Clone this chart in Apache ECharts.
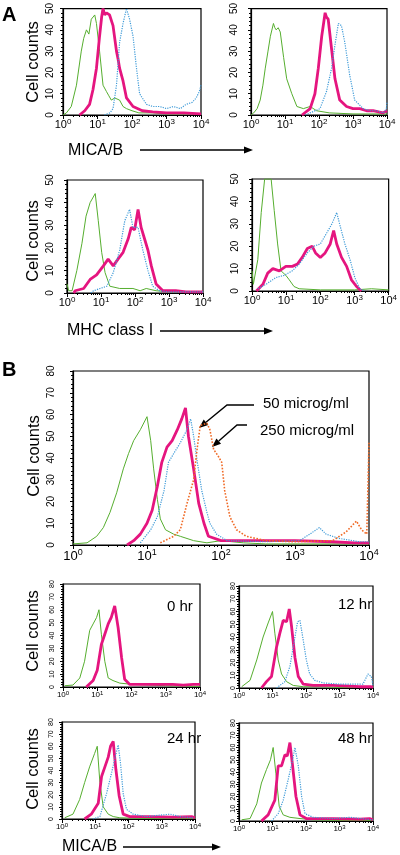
<!DOCTYPE html>
<html><head><meta charset="utf-8">
<script src="https://cdn.jsdelivr.net/npm/echarts@6/dist/echarts.min.js"></script>
<style>html,body{margin:0;padding:0;background:#fff}#c{width:400px;height:855px}</style>
</head><body><div id="c"></div>
<script>
// ---------- DATA (x = log10 fluorescence exponent, y = cell counts) ----------
const xTickExponents = [0, 1, 2, 3, 4];
// Panel A, top-left (MICA/B)
const a1Green = [[0,0],[0.1,1],[0.24,4],[0.39,14],[0.53,30],[0.6,36],[0.68,40],[0.75,38],[0.82,45],[0.92,47],[0.97,43],[1.06,30],[1.16,14],[1.26,11],[1.33,9],[1.4,7],[1.5,8],[1.64,7],[1.74,4],[1.84,3],[2.0,2],[2.2,1],[2.6,1],[3.0,0.5],[3.5,0.5],[4,0.5]];
const a1Magenta = [[0.48,0],[0.63,2],[0.77,5],[0.87,12],[0.97,22],[1.06,37],[1.12,46],[1.16,50],[1.21,47],[1.26,48],[1.35,47],[1.45,42],[1.55,30],[1.6,26],[1.64,22],[1.74,16],[1.79,12],[1.84,8],[2.03,4],[2.3,2],[2.6,1.5],[3.0,1],[3.5,1],[4,0.5]];
const a1Blue = [[1.2,0],[1.36,1],[1.45,3],[1.55,14],[1.64,34],[1.74,43],[1.84,50],[1.93,45],[2.03,37],[2.13,22],[2.22,10],[2.42,5],[2.6,4],[2.8,4],[3.0,3],[3.2,4],[3.4,3],[3.57,5],[3.75,6],[3.86,8],[3.95,11],[4,14]];
// Panel A, top-right (MICA/B)
const a2Green = [[0,0],[0.08,1],[0.18,3],[0.27,7],[0.35,14],[0.42,22],[0.5,30],[0.57,37],[0.66,43],[0.7,41],[0.74,40],[0.8,41],[0.86,39],[0.96,27],[1.05,17],[1.2,10],[1.35,4],[1.54,3],[1.74,4],[1.93,2],[2.3,1],[3,0.5],[4,0.5]];
const a2Magenta = [[1.5,0],[1.74,3],[1.88,10],[1.98,22],[2.08,37],[2.18,48],[2.22,46],[2.27,45],[2.37,31],[2.47,17],[2.61,7],[2.81,4],[3.0,3],[3.2,3],[3.4,2],[3.59,2],[3.88,1],[4,2]];
const a2Blue = [[1.6,0],[1.74,1],[2.03,3],[2.22,11],[2.37,22],[2.47,33],[2.57,43],[2.66,42],[2.76,34],[2.9,19],[3.05,7],[3.3,3],[3.5,2],[3.69,2],[3.9,1],[3.98,3],[4,6]];
// Panel A, bottom-left (MHC class I)
const a3Green = [[0,4],[0.05,1],[0.15,1],[0.29,10],[0.44,22],[0.56,34],[0.68,40],[0.83,44],[0.92,32],[1.02,18],[1.12,9],[1.26,3],[1.55,2],[1.94,2],[2.15,1],[2.33,2],[2.62,1],[3,0.5],[4,0.5]];
const a3Magenta = [[0.2,0],[0.24,1],[0.49,2],[0.68,6],[0.87,8],[1.07,12],[1.21,15],[1.36,12],[1.5,15],[1.65,18],[1.8,24],[1.89,29],[1.99,28],[2.09,37],[2.18,29],[2.28,24],[2.38,19],[2.48,12],[2.62,4],[2.82,1],[3.2,1],[3.5,0.5],[4,0.5]];
const a3Blue = [[0.7,0],[0.78,1],[1.17,3],[1.36,9],[1.55,19],[1.7,32],[1.84,37],[1.94,29],[2.09,29],[2.23,19],[2.38,10],[2.52,3],[2.72,1],[3,0.5],[4,0.5]];
// Panel A, bottom-right (MHC class I)
const a4Green = [[0,9],[0.04,3],[0.08,3],[0.17,14],[0.27,35],[0.37,50],[0.56,50],[0.65,36],[0.75,21],[0.85,9],[0.99,7],[1.09,5],[1.23,2],[1.38,1],[2,0.5],[3,0.5],[3.5,1],[4,0.5]];
const a4Magenta = [[0.13,0],[0.32,3],[0.46,8],[0.61,10],[0.8,9],[0.99,11],[1.18,11],[1.33,12],[1.47,15],[1.62,19],[1.76,20],[1.86,17],[2.0,15],[2.14,17],[2.29,21],[2.39,27],[2.48,21],[2.62,15],[2.77,11],[2.91,5],[3.06,2],[3.2,0]];
const a4Blue = [[0.17,1],[0.41,3],[0.7,6],[0.94,7],[1.18,9],[1.38,12],[1.62,17],[1.81,20],[2.0,21],[2.19,26],[2.34,30],[2.48,35],[2.58,29],[2.72,21],[2.87,14],[3.01,6],[3.15,1],[3.3,0]];
// Panel B, dose panel
const bGreen = [[0,0.5],[0.19,1],[0.32,4],[0.41,8],[0.5,15],[0.59,24],[0.68,35],[0.75,42],[0.82,48],[0.91,53],[1.0,59],[1.05,48],[1.09,35],[1.14,21],[1.18,12],[1.25,7],[1.36,5],[1.45,4],[1.63,2],[1.81,1],[2.0,2],[2.3,1],[2.6,0.5],[3,0.5],[4,0.5]];
const bMagenta = [[0.73,0],[0.82,2],[0.91,5],[1.0,10],[1.07,16],[1.14,27],[1.2,38],[1.27,45],[1.34,48],[1.41,53],[1.47,58],[1.52,63],[1.56,50],[1.63,35],[1.7,19],[1.77,10],[1.83,4],[2.0,2],[2.5,2],[3.0,2],[3.5,1.5],[3.8,1],[4,1]];
const bBlue = [[0.91,1],[1.05,7],[1.14,13],[1.23,25],[1.29,38],[1.36,42],[1.45,47],[1.54,53],[1.59,58],[1.63,50],[1.68,38],[1.74,25],[1.81,15],[1.85,10],[1.94,5],[2.08,2],[2.61,1.5],[3.06,2],[3.2,5],[3.33,8],[3.42,5],[3.6,3],[3.87,1.5],[4,1.5]];
const bOrange = [[1.18,1],[1.36,4],[1.45,7],[1.54,19],[1.63,30],[1.68,45],[1.72,55],[1.81,56],[1.85,53],[1.9,44],[1.96,41],[2.01,38],[2.05,25],[2.12,13],[2.21,7],[2.34,4],[2.61,2],[2.97,1.5],[3.51,2],[3.69,6],[3.83,11],[3.9,7],[3.97,5],[4,47]];
// Panel B, time course
const h0Green = [[0.05,1],[0.29,1.5],[0.49,7],[0.63,20],[0.78,44],[0.88,49],[0.98,54],[1.05,60],[1.12,41],[1.22,20],[1.32,7],[1.46,5],[1.66,3],[2.05,2],[2.54,1.5],[3,1],[4,0.5]];
const h0Magenta = [[0.68,0],[0.88,5],[1.0,13],[1.12,33],[1.22,41],[1.32,49],[1.41,54],[1.51,63],[1.61,46],[1.71,23],[1.8,6],[1.95,2],[2.24,2],[2.83,2],[3.2,2],[3.51,1.5],[3.8,2],[4,2]];
const h12Green = [[0.08,1],[0.33,6],[0.53,22],[0.72,40],[0.87,51],[1.0,60],[1.07,43],[1.17,22],[1.27,11],[1.42,5],[1.62,2],[1.92,1],[2.41,1],[3,0.5],[4,0.5]];
const h12Magenta = [[0.67,0],[0.82,5],[0.97,9],[1.12,32],[1.22,43],[1.32,53],[1.42,52],[1.5,62],[1.57,48],[1.67,24],[1.77,9],[1.92,3],[2.21,2],[2.81,2],[3.6,1],[3.95,1],[4,0.5]];
const h12Blue = [[1.12,0],[1.37,5],[1.52,17],[1.67,40],[1.75,52],[1.82,53],[1.92,37],[2.01,22],[2.11,11],[2.26,6],[2.51,4],[3.01,3],[3.4,3],[3.7,3],[3.85,11],[3.95,9],[4,2]];
const h24Green = [[0.08,1],[0.33,4],[0.53,16],[0.68,30],[0.83,43],[0.98,54],[1.06,60],[1.14,30],[1.24,10],[1.39,4],[1.54,2],[1.74,1],[2.5,0.5],[4,0.5]];
const h24Magenta = [[0.68,0],[0.88,4],[1.09,13],[1.19,35],[1.29,43],[1.39,51],[1.46,60],[1.54,64],[1.62,41],[1.72,19],[1.84,4],[2.04,2],[2.64,2],[3.35,1.5],[3.9,2],[4,1]];
const h24Blue = [[0.93,0],[1.14,2],[1.34,21],[1.49,38],[1.59,50],[1.69,61],[1.76,46],[1.84,21],[1.94,8],[2.14,4],[2.54,2],[3.25,4],[3.55,2],[3.95,1]];
const h48Green = [[0.08,1],[0.33,2],[0.53,14],[0.67,31],[0.82,42],[0.94,50],[1.02,60],[1.1,39],[1.2,12],[1.32,5],[1.52,3],[1.82,2],[2.21,1],[3,0.5],[4,0.5]];
const h48Magenta = [[0.67,0],[0.87,5],[1.07,17],[1.17,45],[1.27,45],[1.37,54],[1.44,53],[1.52,64],[1.6,45],[1.7,20],[1.82,5],[2.01,2],[2.81,2],[3.6,1.5],[3.9,2],[4,1]];
const h48Blue = [[0.97,0],[1.17,6],[1.32,17],[1.47,34],[1.6,50],[1.67,60],[1.77,45],[1.87,20],[1.97,6],[2.21,3],[2.81,2],[3.31,3],[3.8,1.5],[4,1]];
// Text
const yTitle = 'Cell counts';
const xTitles = ['MICA/B', 'MHC class I', 'MICA/B'];
const timeLabels = ['0 hr', '12 hr', '24 hr', '48 hr'];
const doseLabels = ['50 microg/ml', '250 microg/ml'];

// ---------- LAYOUT / STYLE ----------
const FONT = 'Liberation Sans, Arial, sans-serif';
const styles = {
  g: {color: '#56ae2f', width: 1, type: 'solid'},
  m: {color: '#e5157f', width: 2.8, type: 'solid'},
  b: {color: '#3f9bd8', width: 1.2, type: 'dotted'},
  o: {color: '#f06a26', width: 1.6, type: 'dotted'}
};
const panels = [
  {rect: [63, 6, 138, 109], yMax: 50, xl: 11, yl: 10, ym: 8, s: [['g', a1Green], ['m', a1Magenta], ['b', a1Blue]]},
  {rect: [251, 6, 136, 109], yMax: 50, xl: 11, yl: 10, ym: 12, s: [['g', a2Green], ['m', a2Magenta], ['b', a2Blue]]},
  {rect: [67, 180, 136, 113], yMax: 50, xl: 11, yl: 10, ym: 12, s: [['g', a3Green], ['m', a3Magenta], ['b', a3Blue]]},
  {rect: [252, 179, 140, 112], yMax: 50, xl: 11, yl: 10, ym: 12, s: [['g', a4Green], ['m', a4Magenta], ['b', a4Blue]]},
  {rect: [73, 371, 296, 174], yMax: 80, xl: 13, yl: 10, ym: 17, s: [['g', bGreen], ['m', bMagenta], ['b', bBlue], ['o', bOrange]]},
  {rect: [63, 584, 137, 103], yMax: 80, xl: 8, yl: 7, ym: 7, s: [['g', h0Green], ['m', h0Magenta]]},
  {rect: [239, 586, 134, 102], yMax: 80, xl: 8, yl: 7, ym: 2, s: [['g', h12Green], ['m', h12Magenta], ['b', h12Blue]]},
  {rect: [62, 722, 133, 97], yMax: 80, xl: 8, yl: 7, ym: 7, s: [['g', h24Green], ['m', h24Magenta], ['b', h24Blue]]},
  {rect: [239, 723, 134, 98], yMax: 80, xl: 8, yl: 7, ym: 2, s: [['g', h48Green], ['m', h48Magenta], ['b', h48Blue]]}
];
const minorX = [];
for (let d = 0; d < 4; d++) for (let k = 2; k <= 9; k++) minorX.push(d + Math.log10(k));

const grid = [], xAxis = [], yAxis = [], series = [];
panels.forEach((p, i) => {
  grid.push({left: p.rect[0], top: p.rect[1], width: p.rect[2], height: p.rect[3], show: true,
    borderColor: '#000', borderWidth: 1.2, backgroundColor: 'transparent', containLabel: false});
  xAxis.push({gridIndex: i, type: 'value', min: 0, max: 4, interval: 1, position: 'bottom',
    axisLine: {show: true, onZero: false, lineStyle: {color: '#000', width: 1.2}},
    axisTick: {show: true, length: 4, customValues: xTickExponents, lineStyle: {color: '#000', width: 1}},
    axisLabel: {color: '#000', margin: 3, customValues: xTickExponents,
      formatter: v => '{a|10}{s|' + v + '}',
      rich: {a: {fontSize: p.xl, fontFamily: FONT, color: '#000'},
             s: {fontSize: Math.round(p.xl * 0.72), fontFamily: FONT, color: '#000', padding: [0, 0, Math.round(p.xl * 0.55), 0]}}},
    splitLine: {show: false}});
  xAxis.push({gridIndex: i, type: 'value', min: 0, max: 4, position: 'bottom',
    axisLine: {show: false, onZero: false}, axisLabel: {show: false}, splitLine: {show: false},
    axisTick: {show: true, length: 2, customValues: minorX, lineStyle: {color: '#000', width: 1}}});
  yAxis.push({gridIndex: i, type: 'value', min: 0, max: p.yMax, interval: 10,
    axisLine: {show: true, onZero: false, lineStyle: {color: '#000', width: 1.2}},
    axisTick: {show: true, length: 3, lineStyle: {color: '#000'}},
    minorTick: {show: true, splitNumber: 5, length: 2, lineStyle: {color: '#000'}},
    axisLabel: {rotate: 90, fontSize: p.yl, color: '#000', margin: p.ym, fontFamily: 'Liberation Sans Narrow, Liberation Sans, sans-serif'},
    splitLine: {show: false}, minorSplitLine: {show: false}});
  p.s.forEach(([k, data], j) => {
    const st = styles[k];
    series.push({type: 'line', xAxisIndex: 2 * i, yAxisIndex: i, data: data, symbol: 'none', showSymbol: false,
      lineStyle: {color: st.color, width: st.width, type: st.type}, z: 2 + j, animation: false, silent: true});
  });
});

// ---------- annotations ----------
function arrow(points, head) {
  const n = points.length, [x1, y1] = points[n - 2], [x2, y2] = points[n - 1];
  const a = Math.atan2(y2 - y1, x2 - x1), L = head || 9, W = 3.5;
  const bx = x2 - L * Math.cos(a), by = y2 - L * Math.sin(a);
  const pts = points.slice(0, n - 1).concat([[bx, by]]);
  return [
    {type: 'polyline', shape: {points: pts}, style: {stroke: '#000', lineWidth: 1.4, fill: null}},
    {type: 'polygon', shape: {points: [[x2, y2], [bx - W * Math.sin(a), by + W * Math.cos(a)], [bx + W * Math.sin(a), by - W * Math.cos(a)]]}, style: {fill: '#000'}}
  ];
}
function txt(t, x, y, size, opts) {
  return Object.assign({type: 'text', x: x, y: y, style: {text: t, fontSize: size, fontFamily: FONT, fill: '#000',
    align: 'left', verticalAlign: 'middle'}}, opts || {});
}
function vtxt(t, x, y) {
  return {type: 'text', x: x, y: y, rotation: Math.PI / 2,
    style: {text: t, fontSize: 16.5, fontFamily: FONT, fill: '#000', align: 'center', verticalAlign: 'middle'}};
}
const graphic = [
  {type: 'text', x: 2, y: 15, style: {text: 'A', fontSize: 20, fontWeight: 'bold', fontFamily: FONT, fill: '#000', align: 'left', verticalAlign: 'middle'}},
  {type: 'text', x: 2, y: 370, style: {text: 'B', fontSize: 20, fontWeight: 'bold', fontFamily: FONT, fill: '#000', align: 'left', verticalAlign: 'middle'}},
  vtxt(yTitle, 33, 62), vtxt(yTitle, 33, 241), vtxt(yTitle, 34, 456), vtxt(yTitle, 33, 631), vtxt(yTitle, 33, 769),
  txt(xTitles[0], 68, 151, 16), txt(xTitles[1], 67, 331, 16), txt(xTitles[2], 62, 847, 16),
  txt(timeLabels[0], 167, 607, 15), txt(timeLabels[1], 338, 605, 15), txt(timeLabels[2], 167, 739, 15), txt(timeLabels[3], 338, 739, 15),
  txt(doseLabels[0], 263, 404, 15), txt(doseLabels[1], 260, 431, 15)
].concat(arrow([[140, 150], [253, 150]]), arrow([[160, 331], [273, 331]]), arrow([[123, 847], [221, 847]]),
  arrow([[254, 405], [227, 405], [199, 428]]), arrow([[247, 425], [237, 425], [212, 447]]));

const chart = echarts.init(document.getElementById('c'), null, {renderer: 'canvas'});
chart.setOption({animation: false, backgroundColor: '#fff', textStyle: {fontFamily: FONT},
  grid, xAxis, yAxis, series, graphic});
</script></body></html>
